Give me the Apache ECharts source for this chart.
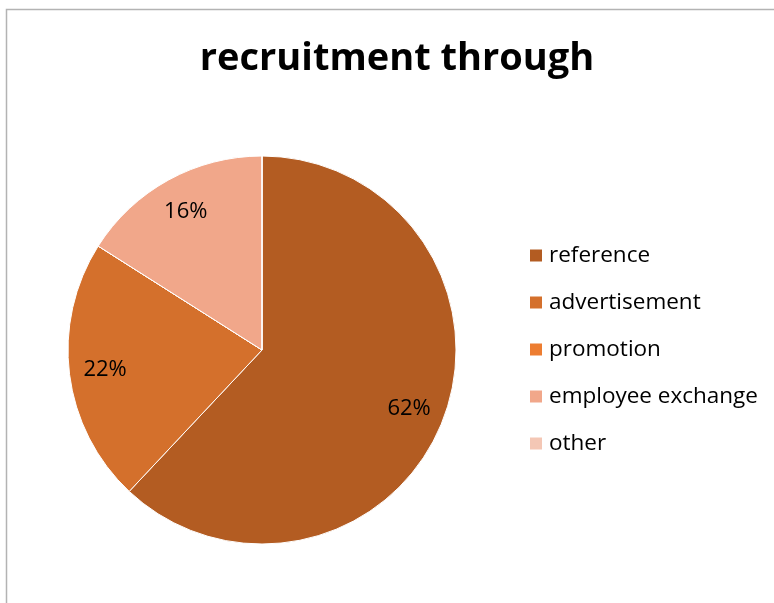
<!DOCTYPE html>
<html>
<head>
<meta charset="utf-8">
<script src="https://cdn.jsdelivr.net/npm/echarts@6/dist/echarts.min.js"></script>
<style>
  html, body { margin: 0; padding: 0; background: #fff; }
  #chart { width: 774px; height: 603px; }
</style>
</head>
<body>
<div id="chart"></div>
<script>
// Recruitment channels and their shares (percent)
const categories = ['reference', 'advertisement', 'promotion', 'employee exchange', 'other'];
const shares = [62, 22, 0, 16, 0];
const colors = ['#B35C22', '#D4702C', '#ED7D31', '#F1A78A', '#F4C7B5'];

const FONT = '"Open Sans", "Liberation Sans", sans-serif';
const pieCenter = [262, 350];
const pieRadius = 194;

const sliceData = categories.map((name, i) => ({
  name: name,
  value: shares[i],
  itemStyle: { color: colors[i] }
}));

const chart = echarts.init(document.getElementById('chart'), null, { renderer: 'canvas' });
chart.setOption({
  animation: false,
  title: {
    text: 'recruitment through',
    left: 397,
    top: 40,
    textAlign: 'center',
    padding: 0,
    textStyle: { fontFamily: FONT, fontSize: 38, fontWeight: 'bold', color: '#000' }
  },
  graphic: [{
    type: 'rect',
    shape: { x: 6.5, y: 9.5, width: 900, height: 800 },
    style: { fill: 'none', stroke: '#b3b3b3', lineWidth: 1.5 },
    silent: true
  }],
  legend: {
    orient: 'vertical',
    left: 528,
    top: 244,
    padding: 0,
    icon: 'rect',
    itemWidth: 14,
    itemHeight: 14,
    itemGap: 24,
    data: categories,
    textStyle: { fontFamily: FONT, fontSize: 22.5, color: '#000', padding: [0, 0, 0, 1] }
  },
  series: [
    {
      // filled slices
      type: 'pie',
      center: pieCenter,
      radius: pieRadius,
      startAngle: 90,
      clockwise: true,
      legendHoverLink: false,
      itemStyle: { borderColor: '#fff', borderWidth: 1 },
      label: { show: false },
      labelLine: { show: false },
      data: sliceData
    },
    {
      // transparent ring that carries the percentage labels near the rim
      type: 'pie',
      center: pieCenter,
      radius: [pieRadius * 0.6, pieRadius],
      startAngle: 90,
      clockwise: true,
      silent: true,
      itemStyle: { color: 'rgba(0,0,0,0)', borderWidth: 0 },
      label: {
        show: true,
        position: 'inside',
        fontFamily: FONT,
        fontSize: 22,
        color: '#000',
        formatter: p => (p.value > 0 ? p.value + '%' : '')
      },
      labelLine: { show: false },
      data: categories.map((name, i) => ({ name: name, value: shares[i] }))
    }
  ]
});
</script>
</body>
</html>
